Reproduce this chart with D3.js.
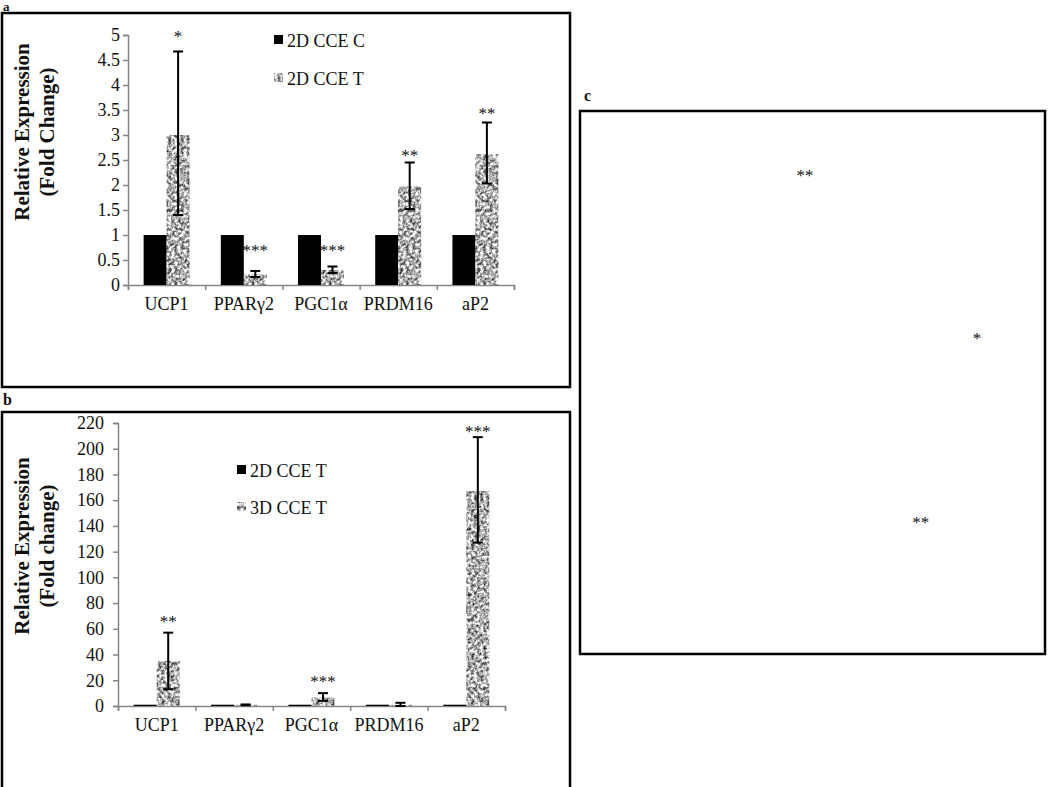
<!DOCTYPE html>
<html>
<head>
<meta charset="utf-8">
<script src="https://cdn.jsdelivr.net/npm/d3@7"></script>
<style>
  body { margin: 0; background: #fff; }
  svg, svg text { font-family: "Liberation Serif", "Times New Roman", Times, "DejaVu Serif", serif; }
  svg text { fill: #111; }
  .axis path, .axis line { stroke: #868686; stroke-width: 1.5; }
  .axis text { font-size: 18px; font-family: "Liberation Serif", "Times New Roman", Times, "DejaVu Serif", serif; }
</style>
</head>
<body>
<svg id="fig" width="1050" height="787"></svg>
<script>
// categories shared by both charts
const categories = ["UCP1", "PPARγ2", "PGC1α", "PRDM16", "aP2"];

// panel a: 2D CCE control vs treated
const aSeries = ["2D CCE C", "2D CCE T"];
const aControl = [1, 1, 1, 1, 1];
const aTreated = [3.0, 0.21, 0.30, 1.97, 2.62];
const aErrLow = [1.40, 0.16, 0.24, 1.52, 2.03];
const aErrHigh = [4.67, 0.28, 0.37, 2.45, 3.25];
const aStars = ["*", "***", "***", "**", "**"];
const aStarAt = [5.04, 0.76, 0.76, 2.66, 3.5];
const aTicks = [0, 0.5, 1, 1.5, 2, 2.5, 3, 3.5, 4, 4.5, 5];

// panel b: 2D vs 3D treated
const bSeries = ["2D CCE T", "3D CCE T"];
const b2D = [1, 1, 1, 1, 1];
const b3D = [35, 0.9, 6.5, 0.9, 167];
const bErrLow = [13, 0.6, 4, 0, 127];
const bErrHigh = [57, 1.2, 10, 2.5, 209];
const bStars = ["**", "", "***", "", "***"];
const bStarAt = [68, 0, 21, 0, 216];
const bTicks = [0, 20, 40, 60, 80, 100, 120, 140, 160, 180, 200, 220];

// panel c: only the significance marks survive, positions as fraction of the box
const cStars = ["**", "*", "**"];
const cStarX = [0.484, 0.854, 0.733];
const cStarY = [0.114, 0.413, 0.753];

const FONT = "'Liberation Serif', 'Times New Roman', Times, 'DejaVu Serif', serif";

let svg = d3.select("#fig").attr("font-family", FONT);

// speckled texture for the treated bars
let defs = svg.append("defs");
let f = defs.append("filter").attr("id", "speckle")
    .attr("x", 0).attr("y", 0).attr("width", 1).attr("height", 1)
    .attr("color-interpolation-filters", "sRGB");
f.append("feTurbulence").attr("type", "fractalNoise")
    .attr("baseFrequency", 0.32).attr("numOctaves", 3).attr("seed", 4).attr("result", "n");
f.append("feColorMatrix").attr("in", "n").attr("type", "matrix")
    .attr("values", "1 0 0 0 0  1 0 0 0 0  1 0 0 0 0  0 0 0 0 1").attr("result", "g");
let ct = f.append("feComponentTransfer").attr("in", "g").attr("result", "c");
["feFuncR", "feFuncG", "feFuncB"].forEach(function(fn) {
    ct.append(fn).attr("type", "linear").attr("slope", 1.7).attr("intercept", -0.16);
});
f.append("feComposite").attr("in", "c").attr("in2", "SourceGraphic").attr("operator", "in");

// frames and panel letters
function frame(x, y, w, h) {
    svg.append("rect").attr("x", x).attr("y", y).attr("width", w).attr("height", h)
        .attr("fill", "none").attr("stroke", "#000").attr("stroke-width", 2.5);
}
function letter(t, x, y, size) {
    svg.append("text").attr("x", x).attr("y", y).attr("font-size", size)
        .attr("font-family", FONT).attr("font-weight", "bold").text(t);
}
frame(2, 13, 568, 374);
frame(2, 412, 568, 400);
frame(580, 111, 465, 543);
letter("a", 3, 11, 13);
letter("b", 3, 405, 16);
letter("c", 584, 101, 16);

/**
 * Draws one grouped bar chart with error bars on the treated series.
 */
function barChart(opt) {
    let g = svg.append("g").attr("font-family", FONT);
    let y = d3.scaleLinear().domain(opt.domain).range([opt.y0, opt.y1]);
    let x = d3.scaleBand().domain(categories).range([opt.x0, opt.x1]);
    let inner = d3.scaleBand().domain(opt.series).range([0, x.bandwidth()])
        .paddingInner(0).paddingOuter(0.68);

    // y axis
    g.append("g").attr("class", "axis")
        .attr("transform", "translate(" + opt.x0 + ",0)")
        .call(d3.axisLeft(y).tickValues(opt.ticks).tickFormat(d => d)
            .tickSize(5).tickSizeOuter(5).tickPadding(opt.tickPad))
        .attr("font-family", FONT).attr("font-size", 18);

    // x axis: boundary ticks, then labels under each band
    let xb = d3.scaleLinear().domain([0, categories.length]).range([opt.x0, opt.x1]);
    g.append("g").attr("class", "axis")
        .attr("transform", "translate(0," + opt.y0 + ")")
        .call(d3.axisBottom(xb).ticks(categories.length).tickFormat("").tickSize(5).tickSizeOuter(5));
    g.append("g").attr("class", "axis")
        .attr("transform", "translate(0," + opt.y0 + ")")
        .call(d3.axisBottom(x).tickSize(0).tickPadding(opt.labelPad))
        .attr("font-family", FONT).attr("font-size", 18)
        .call(a => a.select(".domain").remove());

    // bars
    let rows = categories.map(function(c, i) {
        return {cat: c, base: opt.base[i], val: opt.val[i], lo: opt.lo[i], hi: opt.hi[i],
                star: opt.stars[i], starAt: opt.starAt[i]};
    });
    let grp = g.selectAll("g.grp").data(rows).enter().append("g")
        .attr("class", "grp")
        .attr("transform", d => "translate(" + x(d.cat) + ",0)");
    grp.append("rect")
        .attr("x", inner(opt.series[0])).attr("width", inner.bandwidth())
        .attr("y", d => y(d.base)).attr("height", d => y(0) - y(d.base))
        .attr("fill", "#000");
    grp.append("rect")
        .attr("x", inner(opt.series[1])).attr("width", inner.bandwidth())
        .attr("y", d => y(d.val)).attr("height", d => y(0) - y(d.val))
        .attr("fill", "#999").attr("filter", "url(#speckle)");

    // error bars
    let cx = inner(opt.series[1]) + inner.bandwidth() / 2;
    grp.append("line").attr("x1", cx).attr("x2", cx)
        .attr("y1", d => y(d.lo)).attr("y2", d => y(d.hi))
        .attr("stroke", "#000").attr("stroke-width", 2);
    [d => d.lo, d => d.hi].forEach(function(acc) {
        grp.append("line").attr("x1", cx - 5).attr("x2", cx + 5)
            .attr("y1", d => y(acc(d))).attr("y2", d => y(acc(d)))
            .attr("stroke", "#000").attr("stroke-width", 2);
    });

    // significance
    grp.append("text").attr("x", cx).attr("y", d => y(d.starAt))
        .attr("dy", "0.5em").attr("text-anchor", "middle").attr("font-size", 17)
        .text(d => d.star);

    // legend
    opt.series.forEach(function(s, i) {
        let ly = opt.legY + i * opt.legGap;
        g.append("rect").attr("x", opt.legX).attr("y", ly - 12).attr("width", 9).attr("height", 9)
            .attr("fill", i === 0 ? "#000" : "#aaa")
            .attr("filter", i === 0 ? null : "url(#speckle)");
        g.append("text").attr("x", opt.legX + 13).attr("y", ly).attr("font-size", 18).text(s);
    });

    // y title
    let t = g.append("text").attr("font-size", 21).attr("font-weight", "bold")
        .attr("text-anchor", "middle")
        .attr("transform", "translate(" + opt.titleX + "," + opt.titleY + ") rotate(-90)");
    t.append("tspan").attr("x", 0).attr("dy", 0).text("Relative Expression");
    t.append("tspan").attr("x", 0).attr("dy", 25).text(opt.title2);
}

barChart({
    domain: [0, 5], y0: 285, y1: 35, x0: 128, x1: 514,
    ticks: aTicks, tickPad: 3, labelPad: 12,
    series: aSeries, base: aControl, val: aTreated, lo: aErrLow, hi: aErrHigh,
    stars: aStars, starAt: aStarAt,
    legX: 274, legY: 47, legGap: 38,
    titleX: 29, titleY: 132, title2: "(Fold Change)"
});

barChart({
    domain: [0, 220], y0: 706, y1: 423, x0: 118, x1: 505,
    ticks: bTicks, tickPad: 9, labelPad: 12,
    series: bSeries, base: b2D, val: b3D, lo: bErrLow, hi: bErrHigh,
    stars: bStars, starAt: bStarAt,
    legX: 237, legY: 477, legGap: 37,
    titleX: 29, titleY: 546, title2: "(Fold change)"
});

// panel c marks
let cx = d3.scaleLinear().domain([0, 1]).range([580, 1045]);
let cy = d3.scaleLinear().domain([0, 1]).range([111, 654]);
svg.selectAll("text.cstar").data(cStars).enter().append("text")
    .attr("class", "cstar")
    .attr("x", (d, i) => cx(cStarX[i])).attr("y", (d, i) => cy(cStarY[i]))
    .attr("dy", "0.5em").attr("text-anchor", "middle").attr("font-size", 17)
    .text(d => d);
</script>
</body>
</html>
